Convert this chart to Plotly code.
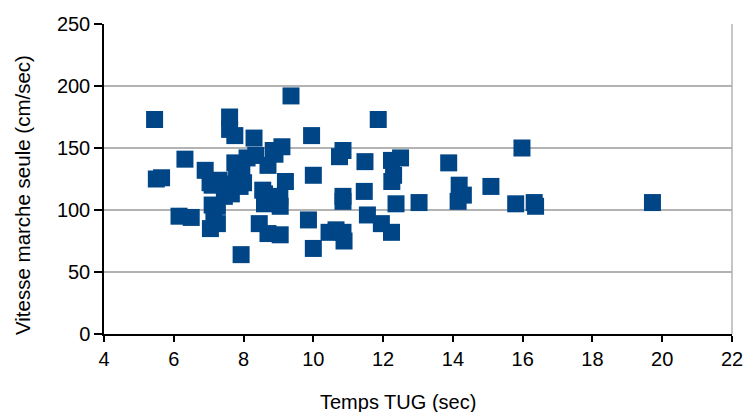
import plotly.graph_objects as go

# Temps TUG (sec)
tug = [5.45, 5.5, 5.65, 6.32, 6.15, 6.5, 6.9, 7.05, 7.15, 7.25,
       7.1, 7.25, 7.1, 7.3, 7.45, 7.5, 7.65, 7.6, 7.6, 7.75,
       7.75, 7.8, 7.9, 8.1, 8.35, 8.3, 8.7, 8.85, 9.1, 9.2,
       8.55, 8.6, 9.0, 9.05, 8.45, 8.7, 9.05, 7.93, 9.36, 9.95,
       10.0, 9.86, 10.0, 10.85, 10.75, 10.85, 10.85, 10.45, 10.65, 10.85,
       10.88, 11.48, 11.86, 11.46, 11.55, 11.95, 12.24, 12.24, 12.5, 12.3,
       12.25, 12.37, 13.03, 13.88, 14.18, 14.3, 14.15, 15.09, 15.98, 15.8,
       16.33, 16.37, 19.72, 7.95, 8.0, 8.6, 8.9, 7.55, 7.04, 9.04]
# Vitesse marche seule (cm/sec)
vitesse = [173, 125, 126, 141, 95, 94, 132, 85, 97, 89,
           104, 103, 120, 124, 111, 116, 113, 175, 165, 160,
           138, 127, 119, 142, 144, 158, 136, 148, 151, 123,
           116, 105, 108, 103, 89, 81, 80, 64, 192, 160,
           128, 92, 69, 148, 143, 111, 107, 82, 84, 82,
           75, 139, 173, 115, 96, 89, 82, 140, 142, 128,
           123, 105, 106, 138, 120, 112, 107, 119, 150, 105,
           106, 103, 106, 130, 122, 113, 145, 121, 122, 111]

x_ticks = [4, 6, 8, 10, 12, 14, 16, 18, 20, 22]
y_ticks = [0, 50, 100, 150, 200, 250]

FONT = "Liberation Sans, Arial, sans-serif"

fig = go.Figure()
fig.add_trace(go.Scatter(
    x=tug, y=vitesse, mode="markers",
    marker=dict(symbol="square", size=17, color="#004586",
                line=dict(width=0)),
    showlegend=False,
))

fig.update_layout(
    width=744, height=412,
    margin=dict(l=104, r=12, t=24, b=78, autoexpand=False),
    paper_bgcolor="white", plot_bgcolor="white",
    font=dict(family=FONT, size=20, color="#000000"),
    xaxis=dict(range=[4, 22], tickvals=x_ticks, showgrid=False,
               zeroline=False, showline=True, linecolor="#000000", linewidth=1.5,
               ticks="outside", ticklen=6, tickcolor="#000000", tickwidth=1.5,
               tickfont=dict(size=20), fixedrange=True, automargin=False),
    yaxis=dict(range=[0, 250], tickvals=y_ticks, showgrid=True,
               gridcolor="#b3b3b3", gridwidth=1.5, zeroline=False,
               showline=True, linecolor="#000000", linewidth=1.5,
               ticks="outside", ticklen=8, tickcolor="#000000", tickwidth=1.5,
               tickfont=dict(size=20), fixedrange=True, automargin=False),
    shapes=[dict(type="line", xref="paper", yref="paper", x0=1, x1=1, y0=0, y1=1,
                 line=dict(color="#b3b3b3", width=1.5))],
    annotations=[
        dict(text="Temps TUG (sec)", xref="paper", yref="paper",
             x=(398 - 104) / 628, y=0, yshift=-68, showarrow=False,
             xanchor="center", yanchor="middle", font=dict(size=20)),
        dict(text="Vitesse marche seule (cm/sec)", xref="paper", yref="paper",
             x=0, xshift=-82, y=(334 - 195) / 310, showarrow=False,
             textangle=-90, xanchor="center", yanchor="middle",
             font=dict(size=20.5)),
    ],
)

fig.write_html("out.html", config={"responsive": False, "displayModeBar": False},
               post_script="document.body.style.margin='0';document.body.style.overflow='hidden';")
